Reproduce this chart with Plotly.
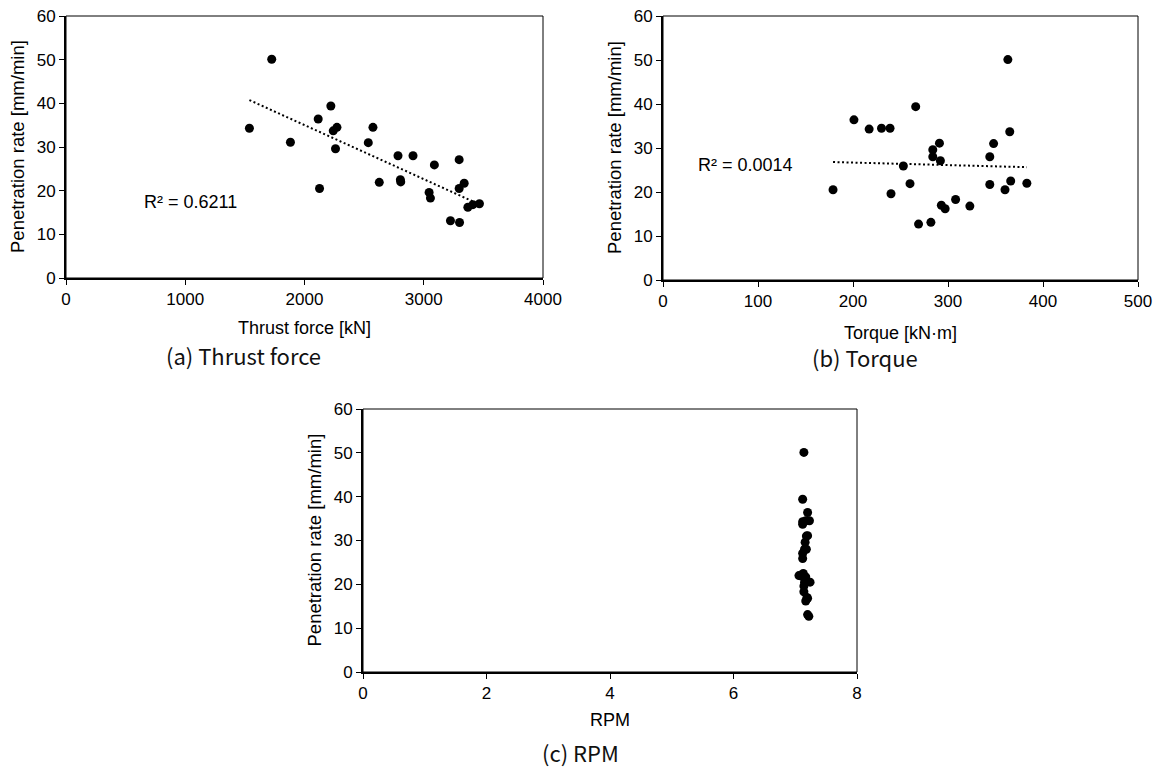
import numpy as np
import plotly.graph_objects as go

# ---- data ----
thrust = [1725, 2221, 2115, 1538, 2272, 2574, 2241, 1882, 2535, 2260, 2784, 2910, 3297, 3089,
          2804, 2807, 2627, 3339, 2126, 3297, 3045, 3056, 3467, 3412, 3370, 3224, 3300]
torque = [363, 266, 201, 217, 230, 239, 365, 291, 348, 284, 284, 344, 292, 253,
          366, 383, 260, 344, 179, 360, 240, 308, 293, 323, 297, 282, 269]
rpm = [7.14, 7.12, 7.20, 7.12, 7.17, 7.23, 7.12, 7.20, 7.18, 7.16, 7.15, 7.18, 7.12, 7.12,
       7.13, 7.06, 7.10, 7.17, 7.24, 7.15, 7.14, 7.14, 7.19, 7.20, 7.17, 7.20, 7.22]
rate = [50.1, 39.4, 36.4, 34.3, 34.5, 34.5, 33.7, 31.1, 31.0, 29.6, 28.0, 28.0, 27.1, 25.9,
        22.5, 22.0, 21.9, 21.7, 20.5, 20.5, 19.6, 18.3, 17.0, 16.8, 16.2, 13.1, 12.7]

r2_labels = ["R² = 0.6211", "R² = 0.0014"]
captions = ["(a) Thrust force", "(b) Torque", "(c) RPM"]
x_titles = ["Thrust force [kN]", "Torque [kN·m]", "RPM"]
y_title = "Penetration rate [mm/min]"
x_ranges = [[0, 4000], [0, 500], [0, 8]]
x_dticks = [1000, 100, 2]

W, H = 1172, 769
OFF = 8  # page body margin offset of the plot div

# plot boxes in window pixels (left, right, top, bottom)
boxes = [(66, 543, 16, 278), (663, 1138, 16, 280), (363, 857, 409, 672)]

def px(x):
    return (x - OFF) / W

def py(y):
    return 1 - (y - OFF) / H

fig = go.Figure()
tick_font = dict(family="Liberation Sans, Arial, sans-serif", size=17, color="#000")
title_font = dict(family="Liberation Sans, Arial, sans-serif", size=18, color="#000")
ytitle_font = dict(family="Liberation Sans, Arial, sans-serif", size=18.5, color="#000")
cap_font = dict(family="Noto Sans CJK KR, Noto Sans, sans-serif", size=22, color="#111")

xs_all = [thrust, torque, rpm]
layout = {}
for i, (l, r, t, b) in enumerate(boxes):
    xa = "xaxis" if i == 0 else f"xaxis{i+1}"
    ya = "yaxis" if i == 0 else f"yaxis{i+1}"
    xr = "x" if i == 0 else f"x{i+1}"
    yr = "y" if i == 0 else f"y{i+1}"
    layout[xa] = dict(domain=[px(l), px(r)], anchor=yr, range=x_ranges[i], dtick=x_dticks[i],
                      tick0=0, showgrid=False, zeroline=False, showline=True, linewidth=2,
                      linecolor="#000", ticks="outside", ticklen=5, tickwidth=1,
                      tickcolor="#000", tickfont=tick_font, automargin=False,
                      ticklabeloverflow="allow")
    layout[ya] = dict(domain=[py(b), py(t)], anchor=xr, range=[0, 60], dtick=10, tick0=0,
                      showgrid=False, zeroline=False, showline=True, linewidth=2,
                      linecolor="#000", ticks="outside", ticklen=5, tickwidth=1,
                      tickcolor="#000", tickfont=tick_font, automargin=False,
                      ticklabeloverflow="allow")
    fig.add_trace(go.Scatter(x=xs_all[i], y=rate, mode="markers", xaxis=xr, yaxis=yr,
                             marker=dict(size=9, color="#000"), showlegend=False))
    if i < 2:
        xv = np.array(xs_all[i], dtype=float)
        yv = np.array(rate, dtype=float)
        k, c = np.polyfit(xv, yv, 1)
        xl = [xv.min(), xv.max()]
        fig.add_trace(go.Scatter(x=xl, y=[k * xl[0] + c, k * xl[1] + c], mode="lines",
                                 xaxis=xr, yaxis=yr, showlegend=False,
                                 line=dict(color="#000", width=2, dash="2px,2.5px")))
    # frame
    fig.add_shape(type="rect", xref=f"{xr} domain", yref=f"{yr} domain", x0=0, x1=1, y0=0, y1=1,
                  line=dict(color="#000", width=1))

annotations = []
# y titles
for (l, r, t, b) in boxes:
    annotations.append(dict(x=px(l - 49), y=py((t + b) / 2), xref="paper", yref="paper",
                            text=y_title, textangle=-90, showarrow=False, font=ytitle_font,
                            xanchor="center", yanchor="middle"))
# x titles
x_title_y = [328, 333, 720]
for (l, r, t, b), txt, yy in zip(boxes, x_titles, x_title_y):
    annotations.append(dict(x=px((l + r) / 2), y=py(yy), xref="paper", yref="paper", text=txt,
                            showarrow=False, font=title_font, xanchor="center", yanchor="middle"))
# captions
cap_pos = [(243, 355), (865, 357), (580, 752)]
for txt, (cx, cy) in zip(captions, cap_pos):
    annotations.append(dict(x=px(cx), y=py(cy), xref="paper", yref="paper", text=txt,
                            showarrow=False, font=cap_font, xanchor="center", yanchor="middle"))
# R² labels
r2_pos = [(190, 202), (745, 165)]
for txt, (cx, cy) in zip(r2_labels, r2_pos):
    annotations.append(dict(x=px(cx), y=py(cy), xref="paper", yref="paper", text=txt,
                            showarrow=False, font=title_font, xanchor="center", yanchor="middle"))

fig.update_layout(width=W, height=H, margin=dict(l=0, r=0, t=0, b=0, pad=0, autoexpand=False),
                  paper_bgcolor="white", plot_bgcolor="white",
                  annotations=annotations, **layout)
fig.write_html("out.html")
